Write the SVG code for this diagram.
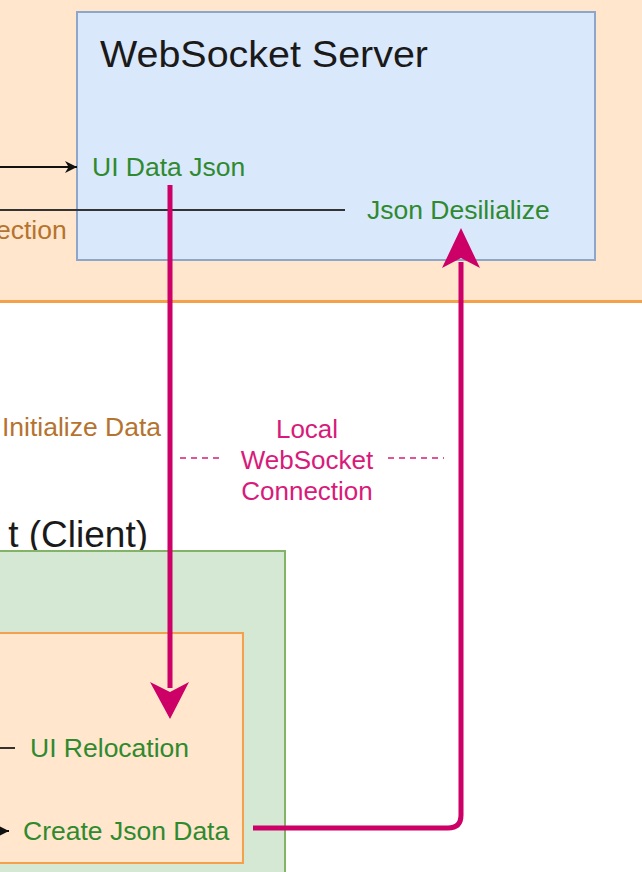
<svg xmlns="http://www.w3.org/2000/svg" width="642" height="872" viewBox="0 0 642 872">
<style>
text{font-family:"Liberation Sans",Arial,sans-serif}
.g{fill:#2f8a2f;font-size:26.5px}
.br{fill:#b5732f;font-size:26.5px}
.mg{fill:#d81b7a;font-size:26px}
.blk{fill:#1a1a1a}
.pink{stroke:#cc0066;stroke-width:5;fill:none}
</style>
<defs>
<marker id="ah" viewBox="0 0 10 10" refX="10" refY="5" markerWidth="12" markerHeight="12" markerUnits="userSpaceOnUse" orient="auto"><path d="M0,0 L10,5 L0,10 L3,5 Z" fill="#111"/></marker>
</defs>
<rect width="642" height="872" fill="#ffffff"/>
<g id="server-area">
<rect x="-10" y="-10" width="662" height="312" fill="#ffe6cc"/>
<line x1="0" y1="301.5" x2="642" y2="301.5" stroke="#f5a04a" stroke-width="3"/>
<text class="br" x="-4" y="239">ection</text>
</g>
<g id="websocket-server">
<rect x="77" y="12" width="518" height="248" fill="#dae8fc" stroke="#8ea6c8" stroke-width="2"/>
<text class="blk" x="100" y="67" font-size="36" textLength="328" lengthAdjust="spacingAndGlyphs">WebSocket Server</text>
<text class="g" x="92" y="176">UI Data Json</text>
<text class="g" x="367" y="219">Json Desilialize</text>
</g>
<g id="client-area">
<text class="br" x="2" y="436">Initialize Data</text>
<text class="blk" x="148" y="547" font-size="37" text-anchor="end">t (Client)</text>
<rect x="-10" y="551" width="295" height="340" fill="#d5e8d4" stroke="#82b366" stroke-width="2"/>
</g>
<g id="client-inner">
<rect x="-10" y="633" width="253" height="230" fill="#ffe6cc" stroke="#f5a04a" stroke-width="2"/>
<text class="g" x="30" y="757">UI Relocation</text>
<text class="g" x="23" y="840">Create Json Data</text>
</g>
<g id="local-ws-label">
<text class="mg" x="307" y="438" text-anchor="middle">Local</text>
<text class="mg" x="307" y="469" text-anchor="middle">WebSocket</text>
<text class="mg" x="307" y="500" text-anchor="middle">Connection</text>
</g>
<g id="connectors">
<line x1="0" y1="167" x2="77" y2="167" stroke="#111" stroke-width="2" marker-end="url(#ah)"/>
<line x1="0" y1="210" x2="345" y2="210" stroke="#333" stroke-width="2"/>
<line x1="0" y1="748" x2="15" y2="748" stroke="#333" stroke-width="2"/>
<line x1="0" y1="831" x2="9" y2="831" stroke="#111" stroke-width="2" marker-end="url(#ah)"/>
<line x1="180" y1="458" x2="222" y2="458" stroke="#e0559a" stroke-width="2" stroke-dasharray="6,5"/>
<line x1="388" y1="458" x2="444" y2="458" stroke="#e0559a" stroke-width="2" stroke-dasharray="6,5"/>
<path class="pink" d="M170,185 V688"/>
<path d="M150,682 L170,719 L189,682 L170,692 Z" fill="#cc0066"/>
<path class="pink" d="M253,828 H448 Q461,828 461,815 V262"/>
<path d="M442,268 L461,228 L480,268 L461,258 Z" fill="#cc0066"/>
</g>
</svg>
